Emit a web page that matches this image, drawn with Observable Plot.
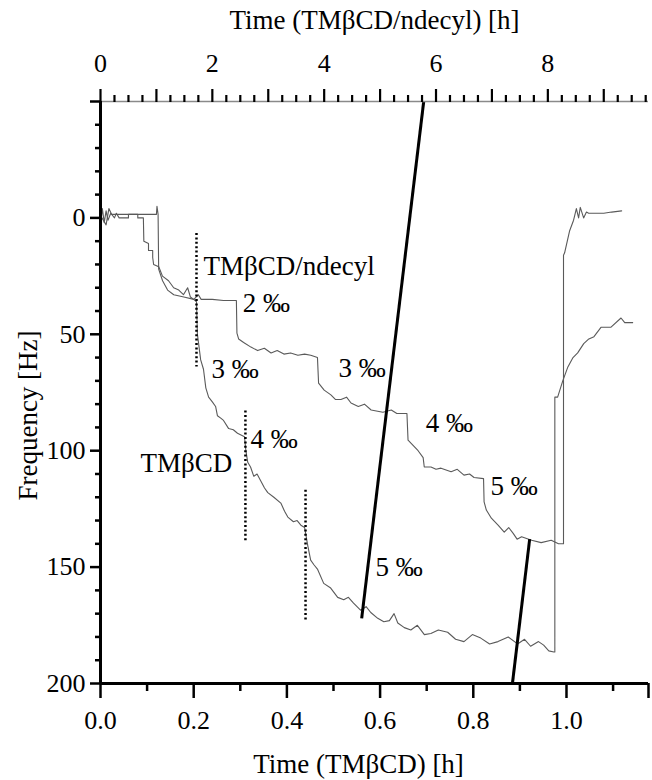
<!DOCTYPE html>
<html><head><meta charset="utf-8">
<script src="https://cdn.jsdelivr.net/npm/d3@7"></script>
<script src="https://cdn.jsdelivr.net/npm/@observablehq/plot@0.6"></script>
<style>
body{margin:0;background:#fff}
#chart svg, #chart svg text { font-family: "Liberation Serif", "Times New Roman", serif !important; }
</style>
</head><body><div id="chart"></div>
<script>
// ratio between the two time axes: 1 h (TMβCD/ndecyl, top) = 0.12 h on the TMβCD (bottom) axis
const K = 0.12;

// TMβCD series (bottom axis, hours) and frequency shift (Hz)
const tmbcdTime = [0,0.004,0.008,0.012,0.016,0.022,0.03,0.034,0.04,0.06,0.06,0.08,0.08,0.092,0.093,0.103,0.103,0.112,0.112,0.114,0.125,0.133,0.146,0.157,0.168,0.178,0.187,0.193,0.2,0.206,0.208,0.215,0.221,0.226,0.232,0.24,0.247,0.251,0.258,0.264,0.275,0.285,0.294,0.309,0.312,0.316,0.322,0.329,0.336,0.344,0.352,0.359,0.372,0.387,0.395,0.402,0.414,0.422,0.43,0.438,0.445,0.451,0.458,0.466,0.479,0.494,0.509,0.522,0.532,0.543,0.558,0.57,0.58,0.595,0.608,0.62,0.63,0.638,0.652,0.666,0.68,0.695,0.709,0.725,0.745,0.762,0.78,0.798,0.816,0.835,0.853,0.875,0.895,0.91,0.923,0.94,0.951,0.962,0.973,0.975,0.975,0.981,0.992,1.003,1.014,1.024,1.037,1.048,1.059,1.074,1.095,1.117,1.125,1.142];
const tmbcdFreq = [3,-4,2,-3,1,-2,0,-2,0,0,-1.5,-1.5,0,0,10,11,14,14,17,20,21,25,27,30,31,33,30,34,35,36,50,61,65,73,77,79,81,85,86,87,90.5,91,92.5,94,100,105,107,111,110,113,116,118,120,122.5,126,128.5,130.5,130,132,133,141,147,149,151,157,159,163,164,163,165.5,168.5,167,169.5,172,173.5,173,170,174,176,177,175,179,178.5,177,178,181,182,179,180.5,183,182,180,183,181,184,182,183.5,186,186.5,186.5,77,77,70,64,60,58,54,52,51,47,47,43,45,45];

// TMβCD/ndecyl series (top axis, hours) and frequency shift (Hz)
const ndecylTime = [0,0.1,0.15,0.2,0.6,1.0,1.01,1.03,1.04,1.11,1.2,1.31,1.49,1.67,1.75,1.8,2.0,2.2,2.43,2.44,2.47,2.56,2.69,2.81,2.93,3.05,3.16,3.28,3.4,3.53,3.65,3.76,3.88,3.89,3.9,4.0,4.12,4.2,4.3,4.4,4.48,4.61,4.72,4.84,5.05,5.2,5.3,5.38,5.48,5.5,5.56,5.68,5.77,5.79,5.91,6.0,6.09,6.27,6.38,6.5,6.6,6.68,6.85,6.86,6.9,6.99,7.11,7.22,7.3,7.38,7.45,7.53,7.71,7.88,8.06,8.19,8.28,8.28,8.3,8.39,8.46,8.48,8.51,8.55,8.58,8.64,8.69,8.73,8.91,9.0,9.14,9.32];
const ndecylFreq = [-1,3,-4,-1.5,-1.5,-1.5,-5,-1.5,22,27,31,33,34,35,33,35,35,35.5,35.5,49.5,52,53.5,55.5,57,56,58,57,58.5,58,59,58.5,59,60,65.5,71,74,76,78,78,77,79.5,81,80,82.5,83.5,82.5,84,84,84,95.5,97,100,103,107,107,108,107.5,109,108,110.5,110,111.5,112,122,125.5,129,132,135,133,135.5,138,137,138.5,139.5,138.5,140,140,16,15,5.5,1,-1,-4,0,-4.5,0,-2.5,-2,-2,-2,-2.5,-3];

// dotted markers (TMβCD injections)
const dotTime = [0.206, 0.311, 0.44];
const dotFrom = [6.7, 83, 117];
const dotTo = [64, 139, 173];

// thick connector lines
const linkX1 = [0.5605, 0.921];
const linkY1 = [172, 138];
const linkX2 = [0.6936, 0.884];
const linkY2 = [-50, 200];

// annotations
const labelText = ["TMβCD/ndecyl", "2 ‰", "3 ‰", "3 ‰", "4 ‰", "5 ‰", "4 ‰", "TMβCD", "5 ‰"];
const labelTime = [0.221, 0.305, 0.238, 0.511, 0.698, 0.837, 0.322, 0.086, 0.590];
const labelFreq = [24.7, 40.6, 68.9, 68.5, 92, 119, 99, 109, 154];

// tick values
const bottomMajor = [0, 0.2, 0.4, 0.6, 0.8, 1.0];
const bottomMinor = [0.1, 0.3, 0.5, 0.7, 0.9, 1.1];
const topLabeled = [0, 2, 4, 6, 8];
const topUnlabeled = [1, 3, 5, 7, 9];
const topMinor = d3.range(0, 9.8, 0.25).filter(h => Math.abs(h - Math.round(h)) > 1e-9);
const yMajor = [0, 50, 100, 150, 200];
const yMinor = [-40, -30, -20, -10, 10, 20, 30, 40, 60, 70, 80, 90, 110, 120, 130, 140, 160, 170, 180, 190];

const tmbcd = tmbcdTime.map((t, i) => ({t, f: tmbcdFreq[i]}));
const ndecyl = ndecylTime.map((t, i) => ({t: t * K, f: ndecylFreq[i]}));
const dots = dotTime.map((t, i) => ({t, a: dotFrom[i], b: dotTo[i]}));
const links = linkX1.map((x, i) => ({x1: x, y1: linkY1[i], x2: linkX2[i], y2: linkY2[i]}));
const labels = labelText.map((s, i) => ({s, t: labelTime[i], f: labelFreq[i]}));

const serif = "Liberation Serif";
const chart = Plot.plot({
  width: 652, height: 780,
  marginLeft: 100, marginRight: 4, marginTop: 101, marginBottom: 97,
  style: "font-family: 'Liberation Serif', serif; font-size: 26px; background: white; color: black;",
  x: {domain: [0, 1.176]},
  y: {domain: [-50, 200], reverse: true},
  marks: [
    Plot.line(tmbcd, {x: "t", y: "f", stroke: "#5a5a5a", strokeWidth: 1.1}),
    Plot.line(ndecyl, {x: "t", y: "f", stroke: "#5a5a5a", strokeWidth: 1.1}),
    Plot.ruleX(dots, {x: "t", y1: "a", y2: "b", stroke: "black", strokeWidth: 2.5, strokeDasharray: "2 2.4"}),
    Plot.link(links, {x1: "x1", y1: "y1", x2: "x2", y2: "y2", stroke: "black", strokeWidth: 3}),
    Plot.text(labels, {x: "t", y: "f", text: "s", textAnchor: "start", lineAnchor: "bottom", fontSize: 27, fontFamily: serif, fill: "black"}),
    // frame lines
    Plot.ruleY([-50], {stroke: "#8a8a8a", strokeWidth: 1.5}),
    Plot.ruleX([0], {stroke: "black", strokeWidth: 3}),
    Plot.ruleY([200], {stroke: "black", strokeWidth: 3}),
    // bottom axis
    Plot.axisX(bottomMajor, {anchor: "bottom", tickSize: 15, tickPadding: 12, strokeWidth: 2.5, fontFamily: serif, fontSize: 26, tickFormat: d3.format(".1f"), label: null}),
    Plot.axisX(bottomMinor, {anchor: "bottom", tickSize: 8, strokeWidth: 2.5, tickFormat: () => "", label: null}),
    Plot.axisX([1.176], {anchor: "bottom", tickSize: 15, strokeWidth: 2.5, tickFormat: () => "", label: null}),
    // top axis (TMβCD/ndecyl hours)
    Plot.axisX(topLabeled.map(h => h * K), {anchor: "top", tickSize: 13, tickPadding: 17, strokeWidth: 2.2, fontFamily: serif, fontSize: 26, tickFormat: d => String(Math.round(d / K)), label: null}),
    Plot.axisX(topUnlabeled.map(h => h * K), {anchor: "top", tickSize: 13, strokeWidth: 2.2, tickFormat: () => "", label: null}),
    Plot.axisX(topMinor.map(h => h * K), {anchor: "top", tickSize: 7, strokeWidth: 2.2, tickFormat: () => "", label: null}),
    // left axis
    Plot.axisY(yMajor, {anchor: "left", tickSize: 10, tickPadding: 5, strokeWidth: 2.5, fontFamily: serif, fontSize: 26, tickFormat: d => String(d), label: null}),
    Plot.axisY([-50], {anchor: "left", tickSize: 10, strokeWidth: 2.5, tickFormat: () => "", label: null}),
    Plot.axisY(yMinor, {anchor: "left", tickSize: 5, strokeWidth: 2.5, tickFormat: () => "", label: null}),
    // axis titles
    Plot.text(["Time (TMβCD) [h]"], {frameAnchor: "bottom", textAnchor: "middle", dx: -16, dy: 89, lineAnchor: "bottom", fontSize: 27, fontFamily: serif, fill: "black"}),
    Plot.text(["Time (TMβCD/ndecyl) [h]"], {frameAnchor: "top", textAnchor: "middle", dy: -73, lineAnchor: "bottom", fontSize: 27, fontFamily: serif, fill: "black"}),
    Plot.text(["Frequency [Hz]"], {frameAnchor: "left", textAnchor: "middle", rotate: -90, dx: -72, dy: 23, fontSize: 27, fontFamily: serif, fill: "black"})
  ]
});
document.getElementById("chart").appendChild(chart);
</script>
</body></html>
